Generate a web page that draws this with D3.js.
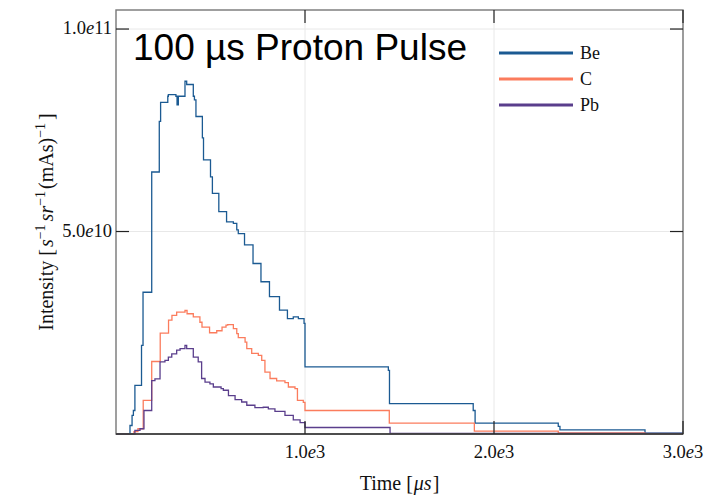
<!DOCTYPE html>
<html>
<head>
<meta charset="utf-8">
<script src="https://cdn.jsdelivr.net/npm/d3@7"></script>
<style>
  body { margin: 0; background: #fff; }
  text.serif { font-family: "Liberation Serif", "DejaVu Serif", serif; fill: #111; }
  .title { font-family: "Liberation Sans", Arial, sans-serif; font-size: 37px; fill: #000; }
</style>
</head>
<body>
<svg width="724" height="497"></svg>
<script>
// time bin starts [µs] and intensity (units of 1e10) for each target
const beTime  = [0, 65, 74, 85, 92, 100, 135, 143, 189, 229, 236, 274, 277, 317, 323, 330, 365, 374, 409, 415, 423, 457, 463, 500, 510, 544, 585, 621, 639, 647, 680, 725, 767, 812, 865, 907, 938, 965, 995, 1000, 1441, 1447, 1890, 1900, 2340, 2349, 2799, 3000];
const beValue = [0, 0, 0.21, 0.46, 0.58, 1.2, 2.19, 3.5, 6.47, 7.72, 8.19, 8.34, 8.38, 8.34, 8.13, 8.34, 8.71, 8.63, 8.34, 8.25, 7.84, 7.31, 6.77, 6.35, 5.94, 5.49, 5.24, 5.2, 5.04, 4.95, 4.67, 4.21, 3.76, 3.39, 3.06, 2.85, 2.89, 2.85, 2.73, 1.66, 1.57, 0.75, 0.58, 0.27, 0.19, 0.1, 0.02, 0.02];

const cTime  = [0, 80, 95, 116, 144, 189, 234, 278, 296, 321, 365, 376, 409, 444, 455, 495, 533, 561, 582, 591, 621, 639, 647, 683, 692, 718, 753, 771, 788, 815, 850, 894, 912, 947, 960, 991, 1000, 1446, 1896, 2340, 2799, 3000];
const cValue = [0, 0, 0.06, 0.13, 0.83, 1.79, 2.49, 2.81, 2.93, 3.01, 3.05, 2.97, 2.89, 2.76, 2.64, 2.5, 2.55, 2.64, 2.69, 2.7, 2.6, 2.48, 2.38, 2.27, 2.11, 1.99, 1.94, 1.82, 1.53, 1.37, 1.31, 1.27, 1.16, 1.12, 0.83, 0.78, 0.58, 0.27, 0.07, 0.025, 0.008, 0.008];

const pbTime  = [0, 85, 100, 127, 148, 189, 206, 233, 259, 277, 295, 321, 339, 365, 374, 409, 435, 453, 471, 497, 515, 556, 568, 595, 630, 665, 692, 735, 779, 806, 841, 894, 938, 974, 1000, 1450, 3000];
const pbValue = [0, 0, 0.09, 0.13, 0.58, 1.32, 1.36, 1.78, 1.82, 1.9, 1.98, 2.07, 2.11, 2.19, 2.11, 1.9, 1.78, 1.37, 1.28, 1.24, 1.16, 1.12, 1.08, 0.95, 0.85, 0.79, 0.71, 0.65, 0.66, 0.62, 0.56, 0.46, 0.35, 0.28, 0.16, 0.012, 0.012];

const seriesNames = ['Be', 'C', 'Pb'];
const seriesColors = ['#1b5a92', '#fb7c5d', '#5a3e8c'];

const xTicks = [1000, 2000, 3000];
const xTickLabels = ['1.0', '2.0', '3.0'];
const xTickExp = ['3', '3', '3'];
const yTicks = [5e10, 1e11];
const yTickLabels = ['5.0', '1.0'];
const yTickExp = ['10', '11'];

const svg = d3.select('svg');
const margin = {top: 10, right: 41, bottom: 63, left: 116};
const width = +svg.attr('width');
const height = +svg.attr('height');
const innerWidth = width - margin.left - margin.right;
const innerHeight = height - margin.top - margin.bottom;

const g = svg.append('g').attr('transform', `translate(${margin.left},${margin.top})`);

const xScale = d3.scaleLinear().domain([0, 3000]).range([0, innerWidth]);
const yScale = d3.scaleLinear().domain([0, 1.047e11]).range([innerHeight, 0]);

// lay out pieces of "math" text as separate text nodes at (x0, y0)
// parts: [text, fontSize, italic, dy, gapAfter]
function mathText(parts, x0, y0, anchor, rotate) {
  const grp = svg.append('g');
  const nodes = [];
  let x = 0;
  parts.forEach(p => {
    const t = grp.append('text').attr('class', 'serif')
      .attr('font-size', p[1])
      .attr('font-style', p[2] ? 'italic' : 'normal')
      .text(p[0]);
    nodes.push({t: t, x: x, dy: p[3] || 0});
    x += t.node().getComputedTextLength() + (p[4] || 0);
  });
  const shift = anchor === 'middle' ? -x / 2 : anchor === 'end' ? -x : 0;
  nodes.forEach(n => {
    if (rotate) {
      // rotated -90 about (x0, y0): text runs upward
      n.t.attr('transform', `translate(${x0 + n.dy},${y0 - (n.x + shift)}) rotate(-90)`);
    } else {
      n.t.attr('x', x0 + n.x + shift).attr('y', y0 + n.dy);
    }
  });
  return grp;
}

// grid
g.selectAll('.gx').data(xTicks).enter().append('line')
  .attr('x1', d => xScale(d)).attr('x2', d => xScale(d))
  .attr('y1', 0).attr('y2', innerHeight)
  .attr('stroke', '#e8e8e8').attr('stroke-width', 1);
g.selectAll('.gy').data(yTicks).enter().append('line')
  .attr('x1', 0).attr('x2', innerWidth)
  .attr('y1', d => yScale(d)).attr('y2', d => yScale(d))
  .attr('stroke', '#e8e8e8').attr('stroke-width', 1);

// series
const series = [
  {name: 'Be', t: beTime, v: beValue},
  {name: 'C', t: cTime, v: cValue},
  {name: 'Pb', t: pbTime, v: pbValue}
];
const lineGenerator = d3.line()
  .x(d => xScale(d[0]))
  .y(d => yScale(d[1] * 1e10))
  .curve(d3.curveStepAfter);

series.forEach((s, i) => {
  const pts = s.t.map((t, j) => [t, s.v[j]]);
  g.append('path')
    .attr('d', lineGenerator(pts))
    .attr('fill', 'none')
    .attr('stroke', seriesColors[i])
    .attr('stroke-width', 1.3);
});

// frame
g.append('rect')
  .attr('x', 0).attr('y', 0)
  .attr('width', innerWidth).attr('height', innerHeight)
  .attr('fill', 'none').attr('stroke', '#777').attr('stroke-width', 1.4);
g.append('line')
  .attr('x1', 0).attr('x2', innerWidth)
  .attr('y1', innerHeight).attr('y2', innerHeight)
  .attr('stroke', '#333').attr('stroke-width', 1.4);

// inner ticks, mirrored
const tickLen = 13;
xTicks.forEach(d => {
  g.append('line').attr('x1', xScale(d)).attr('x2', xScale(d))
    .attr('y1', innerHeight).attr('y2', innerHeight - tickLen)
    .attr('stroke', '#222').attr('stroke-width', 1.2);
  g.append('line').attr('x1', xScale(d)).attr('x2', xScale(d))
    .attr('y1', 0).attr('y2', tickLen)
    .attr('stroke', '#222').attr('stroke-width', 1.2);
});
yTicks.forEach(d => {
  g.append('line').attr('x1', 0).attr('x2', tickLen)
    .attr('y1', yScale(d)).attr('y2', yScale(d))
    .attr('stroke', '#222').attr('stroke-width', 1.2);
  g.append('line').attr('x1', innerWidth).attr('x2', innerWidth - tickLen)
    .attr('y1', yScale(d)).attr('y2', yScale(d))
    .attr('stroke', '#222').attr('stroke-width', 1.2);
});

// tick labels
xTicks.forEach((d, i) => {
  mathText([[xTickLabels[i], 18.5], ['e', 18.5, true], [xTickExp[i], 18.5]],
    margin.left + xScale(d), margin.top + innerHeight + 24, 'middle');
});
yTicks.forEach((d, i) => {
  mathText([[yTickLabels[i], 18.5], ['e', 18.5, true], [yTickExp[i], 18.5]],
    margin.left - 4, margin.top + yScale(d) + 5, 'end');
});

// axis labels
mathText([['Time [', 20, false, 0, 1], ['μs', 20, true, 0, 1], [']', 20]],
  margin.left + innerWidth / 2, 490, 'middle');

mathText([
  ['Intensity [', 20, false, 0, 2],
  ['s', 20, true],
  ['−1', 14, false, -8, 3],
  ['sr', 20, true],
  ['−1', 14, false, -8, 2],
  ['(mAs)', 20],
  ['−1', 14, false, -8, 3],
  [']', 20]
], 53, margin.top + innerHeight / 2, 'middle', true);

// title
svg.append('text').attr('class', 'title')
  .attr('x', 133).attr('y', 60)
  .text('100 µs Proton Pulse');

// legend
const legendY = [53, 79, 105];
seriesNames.forEach((n, i) => {
  svg.append('line')
    .attr('x1', 499).attr('x2', 573)
    .attr('y1', legendY[i]).attr('y2', legendY[i])
    .attr('stroke', seriesColors[i]).attr('stroke-width', 3);
  svg.append('text').attr('class', 'serif')
    .attr('x', 580).attr('y', legendY[i] + 6)
    .attr('font-size', 18)
    .text(n);
});
</script>
</body>
</html>
